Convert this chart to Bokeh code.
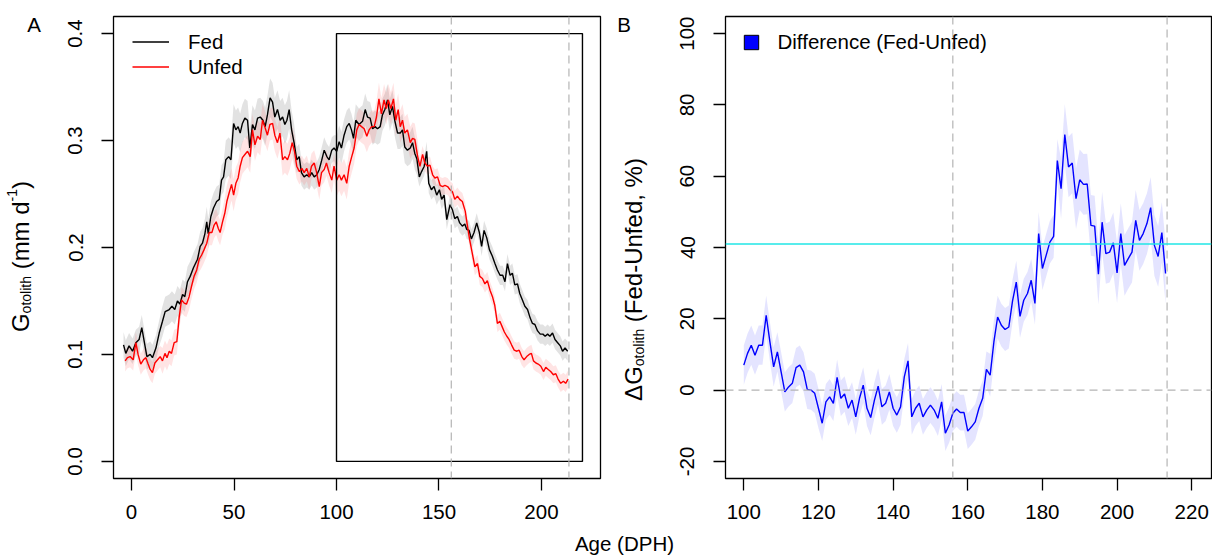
import numpy as np
from math import pi
from bokeh.plotting import figure
from bokeh.models import (Range1d, FixedTicker, PrintfTickFormatter, Span, Label,
                          Legend, LegendItem)
from bokeh.layouts import row, column
from bokeh.embed import file_html
from bokeh.resources import INLINE

# ---------------- data ----------------
fed_age = [-3.9, -2.8, -1.2, 0.5, 2.1, 3.7, 5.0, 6.2, 7.5, 9.1, 10.2, 11.9, 13.5, 15.1, 16.4,
           18.4, 19.7, 21.1, 22.4, 23.6, 24.9, 26.0, 27.3, 28.6, 30.2, 32.2, 33.5, 34.6, 35.8,
           36.7, 37.4, 38.7, 40.0, 41.5, 42.8, 43.9, 44.9, 46.0, 47.4, 48.5, 49.8, 50.9, 52.0,
           53.0, 54.1, 55.3, 56.6, 57.7, 59.0, 60.2, 61.5, 62.8, 64.1, 65.2, 66.3, 67.6, 68.8,
           69.9, 71.2, 72.5, 73.7, 74.8, 75.8, 76.9, 78.1, 79.3, 80.6, 81.8, 82.9, 84.2, 85.5,
           86.7, 87.9, 89.1, 90.4, 91.6, 92.7, 94.0, 95.3, 96.4, 97.7, 98.8, 100.1, 101.3, 102.4,
           103.7, 105.0, 106.2, 107.3, 108.3, 109.4, 111.0, 112.7, 114.0, 115.1, 116.4, 117.6,
           118.8, 120.0, 121.3, 122.4, 123.6, 124.9, 126.0, 127.3, 128.4, 129.8, 131.1, 132.2,
           133.3, 134.6, 136.0, 137.1, 138.2, 139.2, 140.4, 141.5, 142.8, 144.0, 145.0, 146.3,
           147.6, 148.9, 150.2, 151.3, 152.5, 153.8, 155.4, 156.6, 157.7, 159.0, 160.1, 161.4,
           162.6, 163.5, 164.7, 165.8, 167.1, 168.4, 169.7, 170.8, 172.0, 173.3, 174.6, 176.0,
           177.3, 178.5, 179.8, 181.1, 182.2, 183.4, 184.7, 185.8, 187.0, 188.3, 189.4, 190.7,
           191.9, 193.2, 194.5, 195.6, 196.8, 198.1, 199.4, 200.7, 201.8, 203.0, 204.1, 205.4,
           206.6, 207.9, 209.2, 210.3, 211.5, 212.8]
fed_g = [0.109, 0.101, 0.108, 0.103, 0.111, 0.114, 0.125, 0.112, 0.098, 0.100, 0.097, 0.106, 0.120,
         0.131, 0.140, 0.142, 0.145, 0.142, 0.150, 0.147, 0.156, 0.154, 0.168, 0.173, 0.181, 0.189,
         0.201, 0.204, 0.213, 0.224, 0.213, 0.229, 0.237, 0.243, 0.245, 0.263, 0.266, 0.282, 0.285,
         0.282, 0.316, 0.310, 0.313, 0.307, 0.316, 0.321, 0.319, 0.293, 0.315, 0.310, 0.321, 0.322,
         0.319, 0.313, 0.324, 0.340, 0.336, 0.322, 0.329, 0.319, 0.322, 0.315, 0.319, 0.329, 0.310,
         0.298, 0.282, 0.285, 0.270, 0.266, 0.268, 0.266, 0.270, 0.266, 0.268, 0.273, 0.281, 0.291,
         0.285, 0.282, 0.291, 0.293, 0.290, 0.299, 0.293, 0.305, 0.313, 0.316, 0.310, 0.302, 0.319,
         0.315, 0.318, 0.329, 0.322, 0.321, 0.311, 0.313, 0.311, 0.313, 0.324, 0.329, 0.338, 0.324,
         0.332, 0.319, 0.307, 0.307, 0.310, 0.294, 0.291, 0.293, 0.298, 0.288, 0.283, 0.266, 0.271,
         0.276, 0.290, 0.260, 0.254, 0.257, 0.249, 0.254, 0.245, 0.249, 0.226, 0.240, 0.235, 0.227,
         0.229, 0.223, 0.220, 0.222, 0.217, 0.216, 0.208, 0.214, 0.223, 0.214, 0.201, 0.216, 0.209,
         0.198, 0.192, 0.185, 0.179, 0.174, 0.174, 0.168, 0.185, 0.174, 0.176, 0.165, 0.166, 0.157,
         0.151, 0.145, 0.142, 0.134, 0.129, 0.128, 0.122, 0.119, 0.119, 0.117, 0.119, 0.117, 0.120,
         0.114, 0.111, 0.108, 0.103, 0.106, 0.103]

unfed_age = [-3.1, -2.0, -0.7, 0.8, 2.1, 3.2, 4.5, 5.8, 7.0, 8.1, 9.1, 10.2, 11.4, 12.7, 14.0,
             15.1, 16.3, 17.3, 18.4, 19.5, 20.8, 22.1, 23.2, 24.4, 25.7, 26.8, 28.1, 29.3, 30.5,
             31.8, 33.0, 34.2, 35.4, 36.7, 37.9, 39.2, 40.3, 41.3, 42.3, 43.2, 44.4, 45.5, 46.5,
             47.6, 48.8, 49.8, 50.9, 52.0, 53.0, 54.1, 55.3, 56.6, 57.9, 59.0, 60.2, 61.5, 62.8,
             63.9, 65.0, 66.3, 67.5, 68.8, 69.9, 71.2, 72.4, 73.7, 74.8, 76.1, 77.2, 78.4, 79.5,
             80.6, 81.9, 83.1, 84.2, 85.5, 86.7, 87.8, 89.1, 90.2, 91.6, 92.7, 94.0, 95.1, 96.4,
             97.7, 98.8, 100.1, 101.3, 102.4, 103.7, 105.0, 106.2, 107.3, 108.6, 109.9, 111.0,
             112.2, 113.5, 114.8, 115.9, 117.1, 118.4, 119.5, 120.7, 121.9, 123.2, 124.3, 125.3,
             126.5, 127.8, 128.9, 130.1, 131.1, 132.2, 133.3, 134.6, 136.0, 137.1, 138.2, 139.6,
             140.7, 142.0, 143.1, 144.4, 145.6, 146.9, 148.0, 149.3, 150.6, 151.7, 152.9, 154.2,
             155.4, 156.6, 157.7, 159.0, 160.1, 161.4, 162.8, 163.9, 165.0, 166.2, 167.5, 168.8,
             169.9, 171.2, 172.4, 173.6, 174.9, 176.1, 177.2, 178.5, 179.7, 180.8, 181.9, 183.1,
             184.2, 185.4, 186.7, 188.0, 189.1, 190.4, 191.5, 192.8, 194.0, 195.1, 196.1, 197.3,
             198.4, 199.7, 201.0, 202.1, 203.3, 204.5, 205.8, 207.0, 208.1, 209.4, 210.7, 211.8,
             213.0]
unfed_g = [0.094, 0.097, 0.098, 0.095, 0.111, 0.100, 0.091, 0.095, 0.097, 0.091, 0.086, 0.083, 0.092,
           0.095, 0.098, 0.094, 0.101, 0.097, 0.103, 0.101, 0.111, 0.112, 0.134, 0.151, 0.148, 0.147,
           0.154, 0.164, 0.173, 0.179, 0.189, 0.193, 0.198, 0.204, 0.214, 0.214, 0.221, 0.224, 0.218,
           0.214, 0.224, 0.232, 0.243, 0.251, 0.259, 0.249, 0.260, 0.265, 0.276, 0.284, 0.287, 0.290,
           0.285, 0.310, 0.296, 0.304, 0.301, 0.319, 0.313, 0.305, 0.315, 0.316, 0.305, 0.298, 0.307,
           0.282, 0.285, 0.282, 0.288, 0.298, 0.290, 0.276, 0.271, 0.274, 0.270, 0.274, 0.266, 0.276,
           0.279, 0.271, 0.257, 0.270, 0.273, 0.279, 0.270, 0.263, 0.276, 0.263, 0.268, 0.263, 0.268,
           0.260, 0.276, 0.284, 0.293, 0.310, 0.315, 0.313, 0.311, 0.304, 0.310, 0.313, 0.313, 0.322,
           0.339, 0.325, 0.338, 0.330, 0.338, 0.330, 0.339, 0.319, 0.329, 0.313, 0.319, 0.307, 0.310,
           0.298, 0.302, 0.301, 0.285, 0.276, 0.287, 0.279, 0.276, 0.277, 0.268, 0.265, 0.266, 0.258,
           0.257, 0.258, 0.257, 0.254, 0.252, 0.245, 0.248, 0.245, 0.243, 0.234, 0.220, 0.207, 0.195,
           0.182, 0.185, 0.173, 0.171, 0.166, 0.169, 0.160, 0.154, 0.146, 0.129, 0.131, 0.126, 0.121,
           0.117, 0.114, 0.109, 0.104, 0.103, 0.104, 0.098, 0.095, 0.098, 0.100, 0.101, 0.094, 0.092,
           0.091, 0.089, 0.084, 0.088, 0.086, 0.084, 0.081, 0.082, 0.077, 0.073, 0.075, 0.073, 0.077]

# band half-widths (uncertainty) by age segment
se_age_edges = [15, 45, 80, 100, 140]
fed_se = [0.012, 0.014, 0.018, 0.012, 0.015, 0.009]
unfed_se = [0.010, 0.012, 0.015, 0.012, 0.015, 0.008]

diff_age = list(range(100, 214))
diff_pct = [7.0, 10.3, 12.6, 9.8, 12.6, 12.6, 21.0, 13.5, 6.5, 10.7,
            5.1, -0.5, 0.9, 1.9, 6.3, 7.0, 5.1, 0.2, 0.0, -0.9,
            -5.1, -9.3, -3.3, -1.9, -3.7, 3.6, -2.3, -1.1, -5.1, -2.8,
            -7.5, -2.3, 1.4, -5.1, -7.7, -2.8, 1.1, -4.7, -3.7, -0.5,
            -5.1, -7.0, -4.7, 3.7, 8.2, -7.5, -5.1, -3.7, -7.5, -5.6,
            -4.2, -5.6, -7.9, -3.3, -12.1, -9.8, -6.5, -5.3, -6.3, -6.3,
            -11.5, -10.3, -8.9, -5.1,
            -2.3, 5.8, 4.2, 13.5, 20.5, 18.2, 17.0, 17.7, 25.0, 30.3,
            20.7, 25.2, 27.1, 30.8, 24.3, 43.9, 34.1, 37.8, 41.5, 43.1,
            64.4, 56.5, 71.7, 62.6, 63.7, 53.7, 59.0, 57.7, 57.8, 46.2,
            46.0, 32.5, 47.1, 38.3, 38.7, 41.3, 32.9, 43.9, 35.0, 36.9,
            38.7, 47.6, 42.0, 43.9, 46.7, 51.2, 40.6, 37.5, 44.2, 32.7]
diff_se_edges = [120, 165, 184]
diff_se = [5.5, 5.0, 6.0, 8.5]

zoom_box = dict(left=100, right=220, bottom=0.0, top=0.4)
ref_ages = [156, 213.4]
mean_diff = 41

# ---------------- styling ----------------
FONT = "Liberation Sans"
FS = "20.5px"
INK = "black"
W = {' ': 278, '(': 333, ')': 333, '-': 333, ',': 278, '%': 889, 'D': 722, 'F': 611, 'G': 778,
     'U': 722, 'd': 556, 'e': 556, 'f': 278, 'h': 556, 'i': 222, 'l': 222, 'm': 833, 'n': 556,
     'o': 556, 't': 278, '1': 556, '\u0394': 668}
MID = 0.3465     # distance from baseline to the middle of the text box, in em

ROW_H = 533      # height of the panel row
TOP = 16         # frame top offset (shared by every plot in the row)
FH = 462         # frame height
BOT = ROW_H - TOP - FH
FRAME_BOTTOM = TOP + FH


def text_len(s, size):
    return sum(W.get(c, 556) for c in s) / 1000.0 * size


def label_strip(w):
    """narrow plot beside a panel; its frame matches the panel frame, 1 unit = 1 pixel"""
    f = figure(frame_width=w, frame_height=FH, x_range=Range1d(0, w), y_range=Range1d(0, FH),
               min_border_left=0, min_border_right=0, min_border_top=TOP, min_border_bottom=BOT,
               x_axis_type=None, y_axis_type=None, toolbar_location=None, title=None,
               output_backend="svg", outline_line_color=None)
    f.grid.visible = False
    return f


def vertical_rich_label(f, pieces, baseline_x, y_center_page):
    """pieces (text, size, baseline shift) run bottom-to-top."""
    total = sum(text_len(t, s) for t, s, _ in pieces)
    y = (FRAME_BOTTOM - y_center_page) - total / 2.0
    for t, s, dx in pieces:
        lead = len(t) - len(t.lstrip(" "))
        y += text_len(" " * lead, s)
        body = t.strip(" ")
        f.add_layout(Label(x=baseline_x + dx - MID * s, y=y, text=body, angle=pi / 2,
                           text_align="left", text_baseline="middle", text_font=FONT,
                           text_font_size=f"{s}px", text_color=INK))
        y += text_len(body, s)


def style(p):
    p.xgrid.visible = False
    p.ygrid.visible = False
    p.outline_line_color = INK
    p.outline_line_width = 1.3
    p.outline_line_alpha = 1.0
    for ax in (p.xaxis[0], p.yaxis[0]):
        ax.axis_line_color = None
        ax.major_tick_in = 0
        ax.major_tick_out = 12
        ax.major_tick_line_color = INK
        ax.major_tick_line_width = 1.3
        ax.minor_tick_line_color = None
        ax.major_label_text_font = FONT
        ax.major_label_text_font_size = FS
        ax.major_label_text_color = INK
    p.xaxis.major_label_standoff = 14
    p.yaxis.major_label_standoff = 19
    p.yaxis.major_label_orientation = "vertical"


# ---------------- label strip for A ----------------
LA_W = 55
lA = label_strip(LA_W)
vertical_rich_label(lA, [("G", 24, 0), ("otolith", 14, 2), (" (mm d", 24, 0),
                         ("-1", 14, -12), (")", 24, 0)], baseline_x=28.3, y_center_page=256)
lA.add_layout(Label(x=26.7, y=FRAME_BOTTOM - 24, text="A", text_font=FONT, text_font_size=FS,
                    text_align="left", text_baseline="middle", text_color=INK))

# ---------------- panel A ----------------
pA = figure(frame_width=487, frame_height=FH, min_border_left=113 - LA_W, min_border_right=12,
            min_border_top=TOP, min_border_bottom=BOT, title=None,
            x_range=Range1d(-8.8, 228.8), y_range=Range1d(-0.016, 0.416),
            output_backend="svg", toolbar_location=None)
style(pA)
pA.xaxis.ticker = FixedTicker(ticks=[0, 50, 100, 150, 200])
pA.yaxis.ticker = FixedTicker(ticks=[0.0, 0.1, 0.2, 0.3, 0.4])
pA.yaxis.formatter = PrintfTickFormatter(format="%.1f")

fa = np.array(fed_age); fg = np.array(fed_g)
ua = np.array(unfed_age); ug = np.array(unfed_g)
fse = np.array(fed_se)[np.searchsorted(se_age_edges, fa)]
use = np.array(unfed_se)[np.searchsorted(se_age_edges, ua)]

pA.varea(x=fa, y1=fg - fse, y2=fg + fse, fill_color="#9e9e9e", fill_alpha=0.3)
pA.varea(x=ua, y1=ug - use, y2=ug + use, fill_color="#ff6b6b", fill_alpha=0.18)
r_fed = pA.line(fa, fg, line_color="black", line_width=1.4)
r_unfed = pA.line(ua, ug, line_color="red", line_width=1.4)
pA.quad(left=[zoom_box["left"]], right=[zoom_box["right"]], bottom=[zoom_box["bottom"]],
        top=[zoom_box["top"]], fill_color=None, line_color="black", line_width=1.4)
for a in ref_ages:
    pA.add_layout(Span(location=a, dimension="height", line_color="#b4b4b4",
                       line_dash="8 5", line_width=1.2))

legA = Legend(items=[LegendItem(label="Fed", renderers=[r_fed]),
                     LegendItem(label="Unfed", renderers=[r_unfed])],
              location=(19, 399), glyph_width=37, glyph_height=25, label_height=25,
              label_standoff=19, spacing=0, padding=0, margin=0,
              border_line_color=None, background_fill_alpha=0,
              label_text_font=FONT, label_text_font_size=FS, label_text_color=INK)
pA.add_layout(legA)

# ---------------- label strip for B ----------------
LB_X0 = 113 + 487 + 12     # page x where the strip starts (612)
LB_W = 53
lB = label_strip(LB_W)
vertical_rich_label(lB, [("\u0394", 24, 0), ("G", 24, 0), ("otolith", 14, 2),
                         (" (Fed-Unfed, %)", 24, 0)], baseline_x=641 - LB_X0, y_center_page=279)
lB.add_layout(Label(x=616.7 - LB_X0, y=FRAME_BOTTOM - 24, text="B", text_font=FONT,
                    text_font_size=FS, text_align="left", text_baseline="middle",
                    text_color=INK))

# ---------------- panel B ----------------
pB = figure(frame_width=486, frame_height=FH, min_border_left=725 - LB_X0 - LB_W,
            min_border_right=1, min_border_top=TOP, min_border_bottom=BOT, title=None,
            x_range=Range1d(95.1, 225.3), y_range=Range1d(-24.8, 104.8),
            output_backend="svg", toolbar_location=None)
style(pB)
pB.xaxis.ticker = FixedTicker(ticks=[100, 120, 140, 160, 180, 200, 220])
pB.yaxis.ticker = FixedTicker(ticks=[-20, 0, 20, 40, 60, 80, 100])
pB.yaxis.major_label_overrides = {-20: "-20"}

da = np.array(diff_age, dtype=float); dp = np.array(diff_pct)
dse = np.array(diff_se)[np.searchsorted(diff_se_edges, da)]
pB.varea(x=da, y1=dp - dse, y2=dp + dse, fill_color="#6b6bff", fill_alpha=0.18)
pB.add_layout(Span(location=0, dimension="width", line_color="#b4b4b4",
                   line_dash="8 5", line_width=1.2))
for a in ref_ages:
    pB.add_layout(Span(location=a, dimension="height", line_color="#b4b4b4",
                       line_dash="8 5", line_width=1.2))
pB.add_layout(Span(location=mean_diff, dimension="width", line_color="#20e6e6", line_width=1.6))
pB.line(da, dp, line_color="blue", line_width=1.4)
r_key = pB.scatter(x=[np.nan], y=[np.nan], marker="square", fill_color="blue",
                   line_color="black", line_width=1, size=14)
legB = Legend(items=[LegendItem(label="Difference (Fed-Unfed)", renderers=[r_key])],
              location=(7.5, 418), glyph_width=36, glyph_height=36, label_height=36,
              label_standoff=9, spacing=0, padding=0, margin=0,
              border_line_color=None, background_fill_alpha=0,
              label_text_font=FONT, label_text_font_size=FS, label_text_color=INK)
pB.add_layout(legB)

# ---------------- shared x label ----------------
C_H = 555 - ROW_H
pC = figure(frame_width=1212, frame_height=C_H, x_range=Range1d(0, 1212), y_range=Range1d(0, C_H),
            x_axis_type=None, y_axis_type=None, toolbar_location=None, title=None,
            output_backend="svg", min_border=0, outline_line_color=None)
pC.grid.visible = False
pC.add_layout(Label(x=624, y=555 - 543, text="Age (DPH)", text_align="center",
                    text_baseline="middle", text_font=FONT, text_font_size=FS, text_color=INK))

layout = column(row(lA, pA, lB, pB), pC)
open("out.html", "w").write(file_html(layout, INLINE))
